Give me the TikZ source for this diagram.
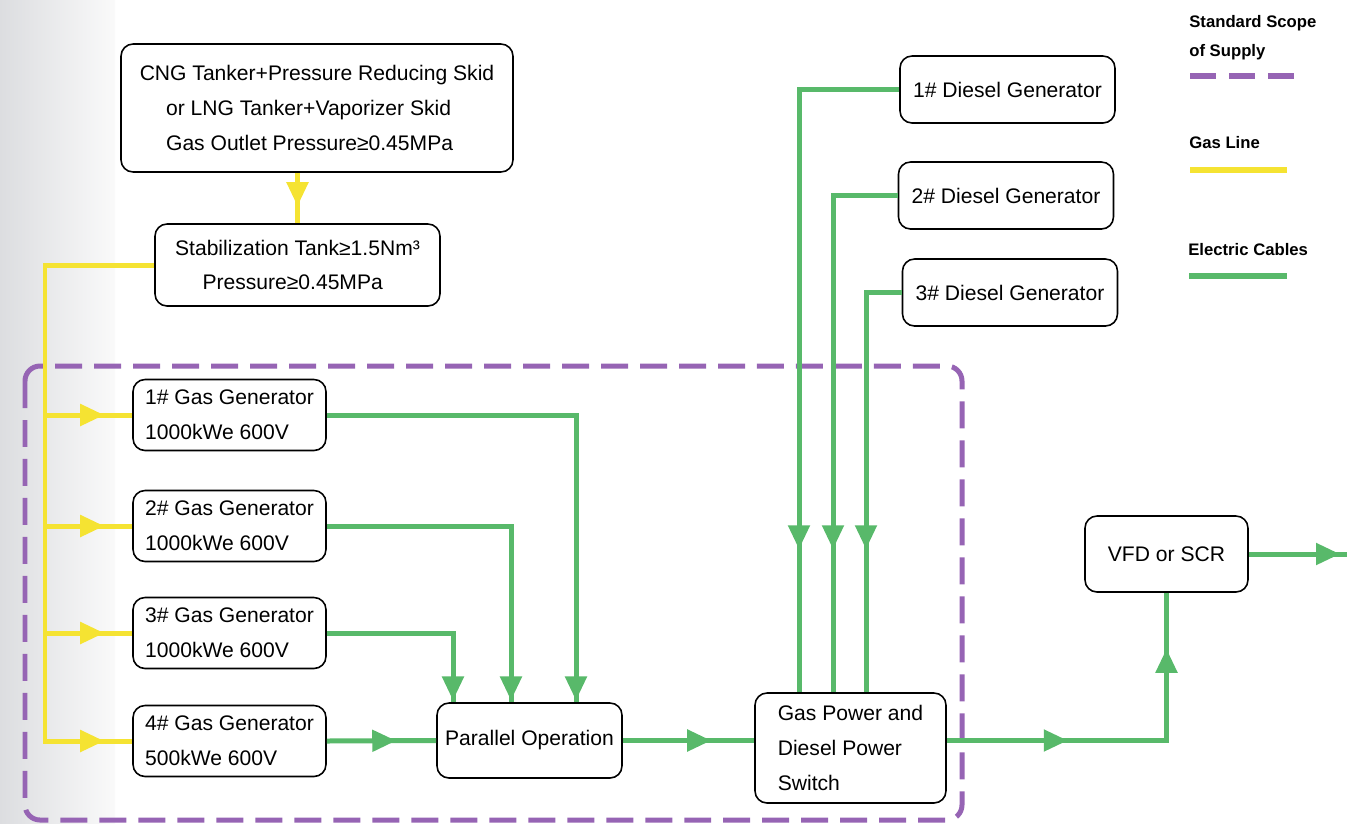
\documentclass[tikz,border=0pt]{standalone}
\usepackage{fontspec}
\setmainfont{Liberation Sans}
\usetikzlibrary{calc,arrows.meta,positioning,decorations.markings}
\definecolor{gasyellow}{HTML}{F5E332}
\definecolor{cablegreen}{HTML}{58B96A}
\definecolor{scopepurple}{HTML}{9664B4}
\definecolor{stripgray}{HTML}{DCDDE0}

\begin{document}
\begin{tikzpicture}[x=0.02cm, y=-0.02cm,
   box/.style={draw=black, line width=0.9pt, rounded corners=0.24cm, fill=white, align=left, inner sep=0pt, font=\fontsize{12}{19.8}\selectfont},
   gasline/.style={draw=gasyellow, line width=0.1cm},
   cable/.style={draw=cablegreen, line width=0.1cm},
   arrowat/.style={postaction={decorate, decoration={markings, mark=at position #1 with {\arrow{Triangle[length=0.48cm, width=0.42cm]}}}}},
   legend/.style={anchor=west, inner sep=0pt, align=left, font=\fontsize{9.5}{16.4}\selectfont\bfseries}]
   \useasboundingbox (0,0) rectangle (1347,823);
   \shade[left color=stripgray, right color=gray!4] (0,0) rectangle (115,823);
   \draw[scopepurple, line width=0.1cm, dash pattern=on 0.54cm off 0.24cm, rounded corners=0.3cm] (25,366) rectangle (962,820);

   \node[box, minimum width=7.84cm, minimum height=2.56cm] (cng) at (317,108) {CNG Tanker+Pressure Reducing Skid\\\hspace*{1.25em}or LNG Tanker+Vaporizer Skid\\\hspace*{1.25em}Gas Outlet Pressure≥0.45MPa};
   \node[box, minimum width=5.7cm, minimum height=1.64cm] (stab) at (297.5,265) {Stabilization Tank≥1.5Nm³\\\hspace*{1.3em}Pressure≥0.45MPa};
   \foreach \i/\y/\p in {1/415/1000, 2/526/1000, 3/633/1000, 4/741/500}
      \node[box, minimum width=3.86cm, minimum height=1.42cm] (gg\i) at (229.5,\y) {\i\# Gas Generator\\\p kWe 600V};
   \node[box, minimum width=3.7cm, minimum height=1.5cm] (par) at (529.5,740.5) {Parallel Operation};
   \node[box, minimum width=3.82cm, minimum height=2.2cm] (sw) at (850.5,748) {Gas Power and\\Diesel Power\\Switch};
   \foreach \i/\x/\y in {1/1007.5/89.5, 2/1006/195.5, 3/1010/292.5}
      \node[box, minimum width=4.3cm, minimum height=1.34cm] (dg\i) at (\x,\y) {\i\# Diesel Generator};
   \node[box, minimum width=3.26cm, minimum height=1.52cm] (vfd) at (1166.5,554) {VFD or SCR};
   \coordinate (gtrunk) at (45,265);
   \coordinate (out) at (1347,554);

   \draw[gasline, arrowat=-0.34cm] (cng.south -| stab.north) -- (stab.north);
   \draw[gasline, arrowat=-0.56cm] (stab.west) -- (gtrunk) |- (gg4.west);
   \foreach \i in {1,2,3}
      \draw[gasline, arrowat=-0.56cm] (gtrunk |- gg\i.west) -- (gg\i.west);

   \draw[cable, arrowat=-1pt] (gg1.east) -| ($(par.north)+(46.5,0)$);
   \draw[cable, arrowat=-1pt] (gg2.east) -| ($(par.north)+(-18.5,0)$);
   \draw[cable, arrowat=-1pt] (gg3.east) -| ($(par.north)+(-76.5,0)$);
   \draw[cable, arrowat=-0.8cm] (gg4.east) -- (par.west);
   \draw[cable, arrowat=-0.86cm] (par.east) -- (par.east -| sw.west);
   \draw[cable, arrowat=-2.86cm] (dg1.west) -| ($(sw.north)+(-51.5,0)$);
   \draw[cable, arrowat=-2.86cm] (dg2.west) -| ($(sw.north)+(-17.5,0)$);
   \draw[cable, arrowat=-2.86cm] (dg3.west) -| ($(sw.north)+(15.5,0)$);
   \draw[cable, arrowat=2.42cm, arrowat=-1.12cm] (sw.east |- par.east) -| (vfd.south);
   \draw[cable, arrowat=-0.14cm] (vfd.east) -- (out);

   \node[legend] (lscope) at (1189,37.5) {Standard Scope\\of Supply};
   \draw[scopepurple, line width=0.12cm, dash pattern=on 0.52cm off 0.26cm] (1190,76) -- (1295,76);
   \node[legend] (lgas) at (1189,143) {Gas Line};
   \draw[gasyellow, line width=0.12cm] (1190,170) -- (1287,170);
   \node[legend] (lcable) at (1188,250) {Electric Cables};
   \draw[cablegreen, line width=0.12cm] (1189,276) -- (1287,276);
\end{tikzpicture}
\end{document}
